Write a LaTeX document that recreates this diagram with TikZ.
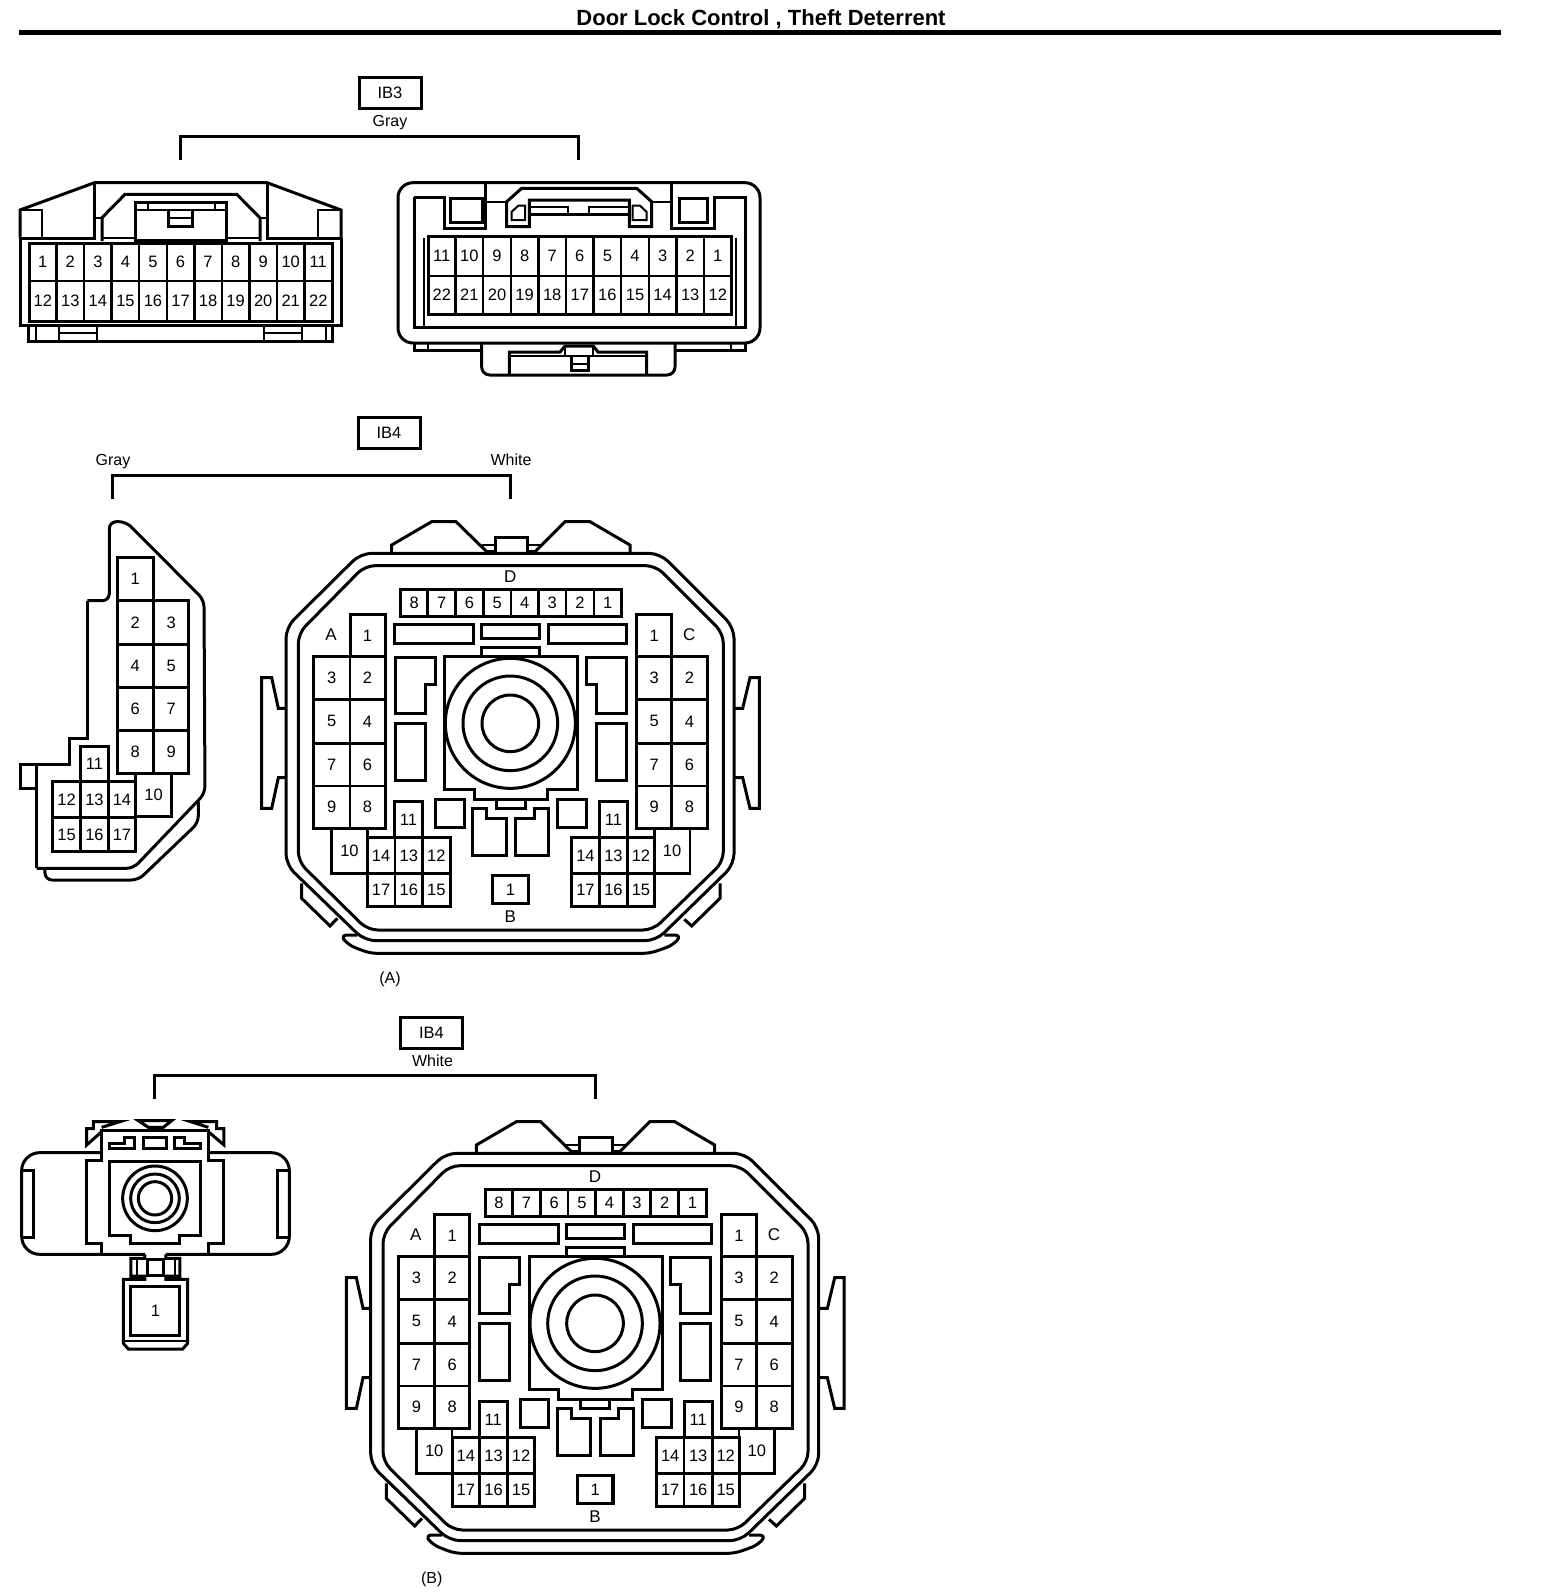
\documentclass[tikz,border=0pt]{standalone}
\usepackage{fontspec}
\setmainfont{Liberation Sans}
\tikzset{
  shell/.style={line width=3pt},
  thinline/.style={line width=2pt},
  pinline/.style={line width=2.5pt,fill=white},
  pinblock/.style={line width=3pt},
  pinlabel/.style={font=\fontsize{16.5}{18}\selectfont,inner sep=0pt},
  bracket/.style={line width=3pt},
  tagbox/.style={draw,line width=3pt,minimum width=62pt,minimum height=31pt,inner sep=0pt,font=\fontsize{16.5}{18}\selectfont},
  caption/.style={font=\fontsize{16}{18}\selectfont,inner sep=0pt},
  letter/.style={font=\fontsize{17}{18}\selectfont,inner sep=0pt}
}
% one pin cell: corners, then its number
\newcommand{\pincell}[5]{\draw[pinline] (#1,#2) rectangle node[pinlabel] {#5} (#3,#4);}
% the round connector, coordinates are 3x zoomed pixels from its own origin
\newcommand{\bigconn}[2]{
  \begin{scope}[shift={(#1,#2)},x=1pt/3,y=-1pt/3]
    % shells
    \draw[shell,rounded corners=11pt] (332,160) -- (1230,160) -- (1452,382) -- (1452,1094) -- (1218,1322) -- (344,1322) -- (108,1094) -- (108,382) -- cycle;
    \draw[shell,rounded corners=10pt] (345,197) -- (1217,197) -- (1420,400) -- (1420,1085) -- (1209,1290) -- (353,1290) -- (145,1085) -- (145,400) -- cycle;
    % top latches
    \draw[shell] (425,158) -- (425,135) -- (545,65) -- (618,65) -- (710,155);
    \draw[shell] (855,155) -- (945,65) -- (1020,65) -- (1140,135) -- (1140,158);
    \draw[shell] (735,158) -- (735,112) -- (832,112) -- (832,158);
    \draw[thinline] (695,135) -- (735,135) (832,135) -- (870,135) (705,152) -- (735,152) (832,152) -- (860,152);
    % side clips
    \draw[shell] (108,625) -- (85,625) -- (65,533) -- (35,533) -- (35,925) -- (65,925) -- (85,833) -- (108,833);
    \draw[shell] (1452,625) -- (1478,625) -- (1500,533) -- (1528,533) -- (1528,925) -- (1500,925) -- (1478,833) -- (1452,833);
    \draw[shell] (155,1150) -- (155,1195) -- (240,1278) -- (262,1255);
    \draw[shell] (1410,1150) -- (1410,1195) -- (1325,1278) -- (1303,1258);
    % bottom band
    \draw[shell,rounded corners=7pt] (322,1305) -- (270,1305) -- (295,1335) -- (360,1360) -- (1200,1360) -- (1270,1335) -- (1295,1305) -- (1243,1305);
    % middle
    \draw[shell] (433,373) rectangle (670,430);
    \draw[shell] (695,373) rectangle (868,415);
    \draw[shell] (895,373) rectangle (1130,430);
    \draw[shell] (695,468) -- (695,442) -- (868,442) -- (868,468);
    \draw[shell] (583,470) -- (983,470) -- (983,868) -- (893,868) -- (893,898) -- (672,898) -- (672,868) -- (583,868) -- cycle;
    \draw[shell] (738,898) -- (738,925) -- (825,925) -- (825,898);
    \draw[shell,fill=white] (781,670) circle[radius=195];
    \draw[shell] (781,670) circle[radius=142];
    \draw[shell] (781,670) circle[radius=85];
    \draw[shell] (435,473) -- (555,473) -- (555,553) -- (525,553) -- (525,640) -- (435,640) -- cycle;
    \draw[shell] (1128,473) -- (1008,473) -- (1008,553) -- (1038,553) -- (1038,640) -- (1128,640) -- cycle;
    \draw[shell] (435,670) rectangle (525,840);
    \draw[shell] (1038,670) rectangle (1128,840);
    \draw[shell] (557,898) rectangle (642,982);
    \draw[shell] (922,898) rectangle (1010,982);
    \draw[shell] (668,925) -- (710,925) -- (710,955) -- (768,955) -- (768,1065) -- (668,1065) -- cycle;
    \draw[shell] (895,925) -- (852,925) -- (852,955) -- (797,955) -- (797,1065) -- (895,1065) -- cycle;
    % strip D
    \node[letter] (lblD) at (781,230) {D};
    \foreach \xa/\xb/\n in {452/533/8,533/617/7,617/700/6,700/783/5,783/866/4,866/948/3,948/1032/2,1032/1115/1}
      {\pincell{\xa}{267}{\xb}{350}{\n}}
    \draw[pinblock] (452,267) rectangle (1115,350);
    % block A
    \node[letter] (lblA) at (243,405) {A};
    \pincell{300}{342}{405}{470}{1}
    \foreach \ya/\yb/\na/\nb in {470/598/3/2,598/730/5/4,730/858/7/6,858/985/9/8}
      {\pincell{190}{\ya}{300}{\yb}{\na}\pincell{300}{\ya}{405}{\yb}{\nb}}
    \draw[pinblock] (300,470) -- (300,342) -- (405,342) -- (405,985) -- (190,985) -- (190,470) -- cycle;
    \pincell{245}{985}{352}{1120}{10}
    \pincell{433}{905}{518}{1013}{11}
    \foreach \xa/\xb/\na/\nb in {352/435/14/17,435/518/13/16,518/600/12/15}
      {\pincell{\xa}{1013}{\xb}{1120}{\na}\pincell{\xa}{1120}{\xb}{1218}{\nb}}
    \draw[pinblock] (352,1013) rectangle (600,1218);
    \draw[pinblock] (433,1013) -- (433,905) -- (518,905) -- (518,1013);
    % block C
    \node[letter] (lblC) at (1318,405) {C};
    \pincell{1160}{342}{1265}{470}{1}
    \foreach \ya/\yb/\na/\nb in {470/598/3/2,598/730/5/4,730/858/7/6,858/985/9/8}
      {\pincell{1160}{\ya}{1265}{\yb}{\na}\pincell{1265}{\ya}{1372}{\yb}{\nb}}
    \draw[pinblock] (1160,342) -- (1265,342) -- (1265,470) -- (1372,470) -- (1372,985) -- (1160,985) -- cycle;
    \pincell{1213}{985}{1320}{1120}{10}
    \pincell{1048}{905}{1133}{1013}{11}
    \foreach \xa/\xb/\na/\nb in {965/1048/14/17,1048/1133/13/16,1133/1213/12/15}
      {\pincell{\xa}{1013}{\xb}{1120}{\na}\pincell{\xa}{1120}{\xb}{1218}{\nb}}
    \draw[pinblock] (965,1013) rectangle (1213,1218);
    \draw[pinblock] (1048,1013) -- (1048,905) -- (1133,905) -- (1133,1013);
    % block B
    \draw[line width=3.5pt] (728,1127) rectangle node[pinlabel] {1} (835,1210);
    \node[letter] (lblB) at (781,1250) {B};
  \end{scope}
}
\begin{document}
\begin{tikzpicture}[x=1pt,y=-1pt]
  \useasboundingbox (0,0) rectangle (1568,1596);
  % title
  \node[font=\fontsize{22}{24}\selectfont\bfseries,inner sep=0pt] (title) at (761,19.5) {Door Lock Control , Theft Deterrent};
  \coordinate (ruleL) at (19,32.5);
  \coordinate (ruleR) at (1501,32.5);
  \draw[line width=5pt] (ruleL) -- (ruleR);

  % IB3 header
  \node[tagbox] (tagIBthree) at (390,93) {IB3};
  \node[caption] (capIBthree) at (390,123) {Gray};
  \coordinate (ib3a) at (180.5,160);
  \coordinate (ib3b) at (180.5,136);
  \coordinate (ib3c) at (578.5,136);
  \coordinate (ib3d) at (578.5,160);
  \draw[bracket] (ib3a) -- (ib3b) -- (ib3c) -- (ib3d);

  % IB3 left connector
  \draw[shell] (20,238) -- (20,325) -- (341,325) -- (341,238);
  \draw[shell] (20,238) -- (20,210) -- (94.5,182.7) -- (267,182.7) -- (341,210) -- (341,238);
  \draw[shell] (20,238) -- (94.5,238) -- (94.5,182.7);
  \draw[shell] (341,238) -- (267,238) -- (267,182.7);
  \draw[thinline] (20,210) -- (42,210) -- (42,238) (341,210) -- (318,210) -- (318,238);
  \draw[shell] (102,241) -- (102,217.7) -- (125,194.3) -- (236.7,194.3) -- (260,217.7) -- (260,241);
  \draw[thinline] (94.5,217.7) -- (102,217.7) (260,217.7) -- (267,217.7) (102,238) -- (135,238) (226.7,238) -- (260,238);
  \draw[shell] (135,240) -- (135,202.3) -- (226.7,202.3) -- (226.7,240) -- cycle;
  \draw[thinline] (135,210) -- (226.7,210) (148.3,202.3) -- (148.3,210) (215,202.3) -- (215,210);
  \draw[shell] (168.3,210) -- (168.3,226.7) -- (192.7,226.7) -- (192.7,210);
  \draw[thinline] (168.3,218.3) -- (192.7,218.3);
  \foreach \i in {0,...,10} {
    \pgfmathsetmacro\xa{29+27.55*\i}
    \pgfmathsetmacro\xb{\xa+27.55}
    \pgfmathtruncatemacro\na{\i+1}
    \pgfmathtruncatemacro\nb{\i+12}
    \pincell{\xa}{243}{\xb}{281}{\na}
    \pincell{\xa}{281}{\xb}{321}{\nb}
  }
  \draw[pinblock] (29,243) rectangle (332,321);
  \draw[shell] (28,325) -- (28,341) -- (332,341) -- (332,325);
  \draw[thinline] (36,325) -- (36,341) (59,325) -- (59,341) (97,325) -- (97,341) (264,325) -- (264,341) (302,325) -- (302,341) (326,325) -- (326,341);
  \draw[thinline] (59,333) -- (97,333) (264,333) -- (302,333);

  % IB3 right connector
  \draw[shell,rounded corners=15pt] (398,182.7) rectangle (760,343);
  \draw[shell] (414,197) -- (444,197) -- (444,228) -- (485,228) -- (485,182.7);
  \draw[shell] (671.6,182.7) -- (671.6,228) -- (714,228) -- (714,197) -- (745,197) -- (745,327) -- (414,327) -- (414,197);
  \draw[shell] (450,198) rectangle (482.6,222);
  \draw[shell] (679,198) rectangle (707.5,222);
  \draw[thinline] (485,201.7) -- (506.7,201.7) (651.7,201.7) -- (671.6,201.7);
  \draw[shell] (506.7,201.7) -- (521.7,188.3) -- (636.7,188.3) -- (651.7,201.7) -- (651.7,226.7) -- (629.3,226.7) -- (629.3,200) -- (529.3,200) -- (529.3,226.7) -- (506.7,226.7) -- cycle;
  \draw[thinline] (529.3,206.7) -- (568,206.7) -- (568,214) (589,214) -- (589,206.7) -- (629.3,206.7);
  \draw[shell] (529.3,214) -- (629.3,214);
  \draw[thinline] (511.7,220) -- (511.7,211.7) -- (518.3,205.7) -- (525,205.7) -- (525,220) -- cycle;
  \draw[thinline] (632.7,220) -- (632.7,205.7) -- (640,205.7) -- (646.7,212) -- (646.7,220) -- cycle;
  \foreach \i in {0,...,10} {
    \pgfmathsetmacro\xa{428+27.6*\i}
    \pgfmathsetmacro\xb{\xa+27.6}
    \pgfmathtruncatemacro\na{11-\i}
    \pgfmathtruncatemacro\nb{22-\i}
    \pincell{\xa}{236}{\xb}{276}{\na}
    \pincell{\xa}{276}{\xb}{314}{\nb}
  }
  \draw[pinblock] (428,236) rectangle (731.4,314);
  \draw[thinline] (424,238) -- (424,327) (736,238) -- (736,327);
  \draw[shell] (414,343) -- (414,350) -- (481.7,350) (675,350) -- (745,350) -- (745,343);
  \draw[thinline] (428,343) -- (428,350) (731,343) -- (731,350);
  \draw[shell,rounded corners=8pt] (481.7,343) -- (481.7,375) -- (675,375) -- (675,343);
  \draw[shell] (509.3,375) -- (509.3,352) -- (560,352) -- (565,346) -- (593.3,346) -- (598,352) -- (646.7,352) -- (646.7,375);
  \draw[thinline] (509.3,355.7) -- (646.7,355.7) (565,346) -- (565,355.7) (593.3,346) -- (593.3,355.7);
  \draw[shell] (571.7,355.7) -- (571.7,370) -- (588.3,370) -- (588.3,355.7);
  \draw[thinline] (571.7,364) -- (588.3,364);

  % IB4 (A) header
  \node[tagbox] (tagIBfourA) at (389,433) {IB4};
  \node[caption] (capGray) at (113,462) {Gray};
  \node[caption] (capWhiteA) at (511,460) {White};
  \coordinate (ib4a) at (112,499);
  \coordinate (ib4b) at (112,475);
  \coordinate (ib4c) at (510,475);
  \coordinate (ib4d) at (510,499);
  \draw[bracket] (ib4a) -- (ib4b) -- (ib4c) -- (ib4d);

  % IB4 gray connector
  \begin{scope}[shift={(0,410)},x=1pt/3,y=-1pt/3]
    \draw[shell,rounded corners=7pt] (262,572) -- (328,572) -- (328,335) -- (378,335) -- (612,570) -- (615,1150) -- (400,1375) -- (110,1375);
    \draw[shell] (110,1375) -- (110,1062) -- (210,1062) -- (210,985) -- (262,985) -- (262,572);
    \draw[shell] (110,1062) -- (62,1062) -- (62,1135) -- (110,1135);
    \draw[shell,rounded corners=7pt] (135,1378) -- (135,1410) -- (415,1410) -- (595,1238) -- (595,1175);
    \pincell{352}{441}{460}{572}{1}
    \foreach \ya/\yb/\na/\nb in {572/703/2/3,703/832/4/5,832/962/6/7,962/1090/8/9}
      {\pincell{352}{\ya}{460}{\yb}{\na}\pincell{460}{\ya}{567}{\yb}{\nb}}
    \draw[pinblock] (352,572) -- (352,441) -- (460,441) -- (460,572) -- (567,572) -- (567,1090) -- (352,1090) -- cycle;
    \pincell{407}{1090}{515}{1220}{10}
    \pincell{242}{1010}{325}{1115}{11}
    \foreach \xa/\xb/\na/\nb in {158/242/12/15,242/325/13/16,325/407/14/17}
      {\pincell{\xa}{1115}{\xb}{1222}{\na}\pincell{\xa}{1222}{\xb}{1325}{\nb}}
    \draw[pinblock] (158,1115) rectangle (407,1325);
  \end{scope}

  % IB4 round connector (A)
  \bigconn{250}{500}
  \node[caption] (capA) at (390,979) {(A)};

  % IB4 (B) header
  \node[tagbox] (tagIBfourB) at (431.5,1033) {IB4};
  \node[caption] (capWhiteB) at (432.5,1061) {White};
  \coordinate (ib5a) at (154.5,1099);
  \coordinate (ib5b) at (154.5,1075);
  \coordinate (ib5c) at (595,1075);
  \coordinate (ib5d) at (595,1099);
  \draw[bracket] (ib5a) -- (ib5b) -- (ib5c) -- (ib5d);

  % IB4 white small connector
  \begin{scope}[shift={(0,1010)},x=1pt/3,y=-1pt/3]
    \draw[shell,rounded corners=18pt] (305,428) -- (65,428) -- (65,733) -- (435,733);
    \draw[shell,rounded corners=18pt] (625,428) -- (868,428) -- (868,733) -- (498,733);
    \draw[shell] (65,480) -- (100,480) -- (100,682) -- (65,682);
    \draw[shell] (868,480) -- (832,480) -- (832,682) -- (868,682);
    \draw[shell] (305,733) -- (305,700) -- (260,700) -- (260,452) -- (305,452) -- (305,360) -- (625,360) -- (625,452) -- (670,452) -- (670,700) -- (625,700) -- (625,733);
    \draw[shell] (330,455) -- (603,455) -- (603,675) -- (540,675) -- (540,700) -- (392,700) -- (392,675) -- (330,675) -- cycle;
    \draw[shell] (465,565) circle[radius=97];
    \draw[shell] (465,565) circle[radius=73];
    \draw[shell] (465,565) circle[radius=50];
    \draw[shell] (305,352) -- (360,335) -- (280,335) -- (280,356) -- (260,356) -- (260,405) -- (305,365);
    \draw[shell] (625,352) -- (572,335) -- (650,335) -- (650,356) -- (672,356) -- (672,405) -- (625,365);
    \draw[shell] (415,332) -- (515,332) -- (490,352) -- (445,352) -- cycle;
    \draw[shell] (330,415) -- (330,400) -- (375,400) -- (375,382) -- (405,382) -- (405,415) -- cycle;
    \draw[shell] (430,382) rectangle (500,415);
    \draw[shell] (525,415) -- (525,382) -- (555,382) -- (555,400) -- (603,400) -- (603,415) -- cycle;
    \draw[shell] (435,733) -- (435,745) -- (393,745) -- (393,798) -- (435,798) -- (435,808) -- (370,808) -- (370,1000) -- (385,1017) -- (548,1017) -- (563,1000) -- (563,808) -- (498,808) -- (498,798) -- (540,798) -- (540,745) -- (498,745) -- (498,733);
    \draw[thinline] (410,745) -- (410,798) (525,745) -- (525,798) (370,992) -- (563,992);
    \draw[shell] (442,748) rectangle (492,795);
    \draw[shell] (393,830) rectangle node[pinlabel] {1} (540,975);
  \end{scope}

  % IB4 round connector (B)
  \bigconn{334.7}{1100}
  \node[caption] (capB) at (431.7,1579) {(B)};
\end{tikzpicture}
\end{document}
